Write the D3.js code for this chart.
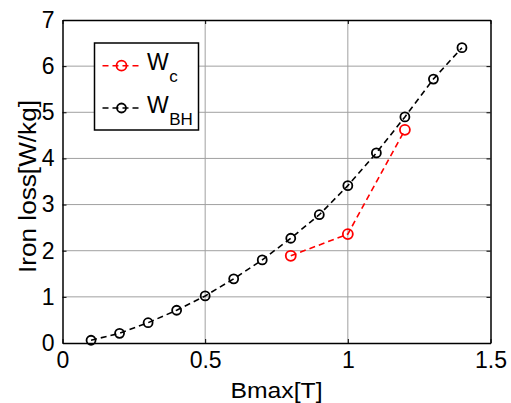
<!DOCTYPE html>
<html>
<head>
<meta charset="utf-8">
<script src="https://cdn.jsdelivr.net/npm/d3@7"></script>
<style>
  body { margin: 0; background: #fff; }
  svg text { font-family: "Liberation Sans", Arial, sans-serif; }
</style>
</head>
<body>
<div id="chart"></div>
<script>
// Data
const bmaxBH = [0.1, 0.2, 0.3, 0.4, 0.5, 0.6, 0.7, 0.8, 0.9, 1.0, 1.1, 1.2, 1.3, 1.4];
const lossBH = [0.06, 0.21, 0.44, 0.71, 1.02, 1.39, 1.80, 2.27, 2.78, 3.41, 4.12, 4.90, 5.72, 6.40];
const bmaxC = [0.8, 1.0, 1.2];
const lossC = [1.89, 2.36, 4.62];
const xTicks = [0, 0.5, 1, 1.5];
const yTicks = [0, 1, 2, 3, 4, 5, 6, 7];

const series = [
    { name: 'W', sub: 'c', color: '#ff0000', r: 5, data: bmaxC.map((x, i) => ({ x, y: lossC[i] })) },
    { name: 'W', sub: 'BH', color: '#000000', r: 4.5, data: bmaxBH.map((x, i) => ({ x, y: lossBH[i] })) }
];

const W = 511, H = 403;
const margin = { top: 20, right: 20.5, bottom: 60, left: 62.5 };
const width = W - margin.left - margin.right;
const height = H - margin.top - margin.bottom;

const svg = d3.select('#chart').append('svg')
    .attr('width', W)
    .attr('height', H);

const g = svg.append('g')
    .attr('transform', `translate(${margin.left},${margin.top})`);

const xScale = d3.scaleLinear().domain([0, 1.5]).range([0, width]);
const yScale = d3.scaleLinear().domain([0, 7]).range([height, 0]);

// grid
g.append('g').selectAll('line')
    .data(xTicks.slice(1, -1))
    .join('line')
    .attr('x1', d => xScale(d)).attr('x2', d => xScale(d))
    .attr('y1', 0).attr('y2', height)
    .attr('stroke', '#a0a0a0').attr('stroke-width', 1);

g.append('g').selectAll('line')
    .data(yTicks.slice(1, -1))
    .join('line')
    .attr('x1', 0).attr('x2', width)
    .attr('y1', d => yScale(d)).attr('y2', d => yScale(d))
    .attr('stroke', '#a0a0a0').attr('stroke-width', 1);

// axes (ticks inward, box around)
const fontSize = '23px';
const xAxis = g.append('g')
    .attr('transform', `translate(0,${height})`)
    .call(d3.axisBottom(xScale).tickValues(xTicks).tickFormat(d3.format('')).tickSizeInner(-4).tickSizeOuter(0).tickPadding(8));
const yAxis = g.append('g')
    .call(d3.axisLeft(yScale).tickValues(yTicks).tickFormat(d3.format('d')).tickSizeInner(-4).tickSizeOuter(0).tickPadding(8));
g.append('g')
    .call(d3.axisTop(xScale).tickValues(xTicks).tickFormat('').tickSizeInner(-4).tickSizeOuter(0));
g.append('g')
    .attr('transform', `translate(${width},0)`)
    .call(d3.axisRight(yScale).tickValues(yTicks).tickFormat('').tickSizeInner(-4).tickSizeOuter(0));

g.selectAll('.domain').attr('stroke', '#000').attr('stroke-width', 1.5);
g.selectAll('.tick line').attr('stroke', '#000');
g.selectAll('.tick text')
    .style('font-size', fontSize)
    .attr('fill', '#000');
xAxis.selectAll('.tick text').attr('dy', '0.72em');

// axis labels
g.append('text')
    .attr('x', width / 2)
    .attr('y', height + 55)
    .attr('textLength', 92)
    .attr('lengthAdjust', 'spacingAndGlyphs')
    .style('text-anchor', 'middle')
    .style('font-size', '22px')
    .text('Bmax[T]');

g.append('text')
    .attr('transform', 'rotate(-90)')
    .attr('x', -166.5)
    .attr('y', -27)
    .attr('textLength', 173)
    .attr('lengthAdjust', 'spacingAndGlyphs')
    .style('text-anchor', 'middle')
    .style('font-size', '23px')
    .text('Iron loss[W/kg]');

// lines + markers
const line = d3.line()
    .x(d => xScale(d.x))
    .y(d => yScale(d.y));

series.slice().reverse().forEach(s => {
    g.append('path')
        .datum(s.data)
        .attr('fill', 'none')
        .attr('stroke', s.color)
        .attr('stroke-width', 1.6)
        .attr('stroke-dasharray', '6,4')
        .attr('d', line);

    g.append('g').selectAll('circle')
        .data(s.data)
        .join('circle')
        .attr('cx', d => xScale(d.x))
        .attr('cy', d => yScale(d.y))
        .attr('r', s.r)
        .attr('fill', 'none')
        .attr('stroke', s.color)
        .attr('stroke-width', 1.8);
});

// legend
const legend = svg.append('g')
    .attr('transform', 'translate(94.5,43)');

legend.append('rect')
    .attr('width', 104)
    .attr('height', 87)
    .attr('fill', '#fff')
    .attr('stroke', '#000')
    .attr('stroke-width', 1.5);

series.forEach((s, i) => {
    const row = legend.append('g')
        .attr('transform', `translate(0, ${22.7 + i * 42.3})`);

    row.append('line')
        .attr('x1', 8).attr('x2', 46)
        .attr('stroke', s.color)
        .attr('stroke-width', 1.6)
        .attr('stroke-dasharray', '6,4');

    row.append('circle')
        .attr('cx', 27)
        .attr('r', s.r)
        .attr('fill', 'none')
        .attr('stroke', s.color)
        .attr('stroke-width', 1.8);

    const t = row.append('text')
        .attr('x', 52.5)
        .attr('y', 4.6)
        .style('font-size', '23px');
    t.append('tspan').text(s.name);
    t.append('tspan')
        .attr('dy', 12)
        .attr('dx', 0.5)
        .style('font-size', '17px')
        .text(s.sub);
});
</script>
</body>
</html>
